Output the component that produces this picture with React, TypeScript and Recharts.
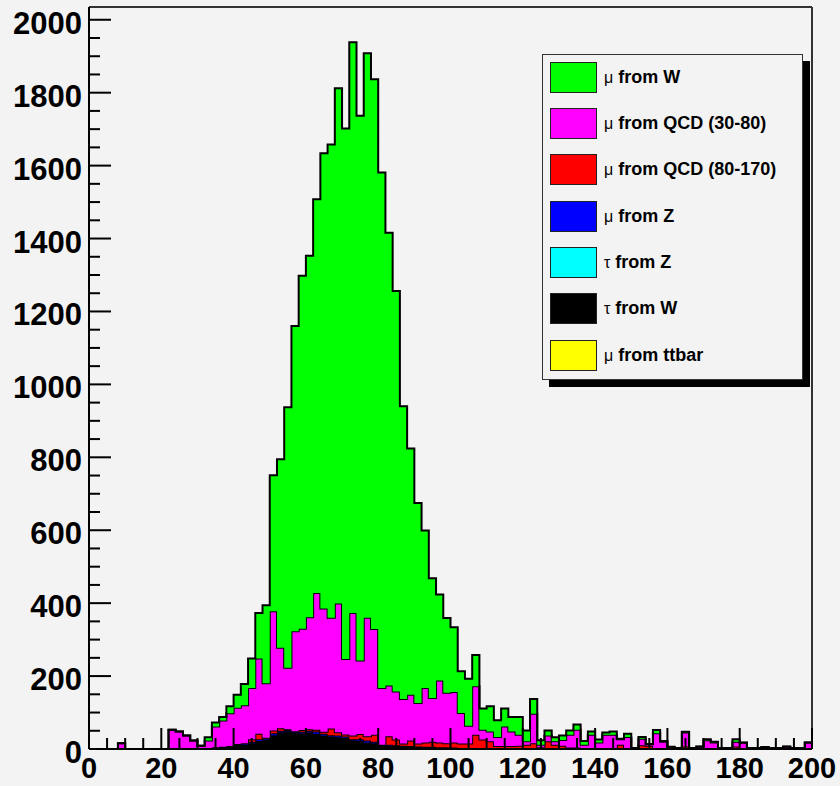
import React from "react";
import { AreaChart, Area, XAxis, YAxis, ReferenceLine } from "recharts";

// low edge of each 2 GeV bin
const BIN_LOW = [
  0, 2, 4, 6, 8, 10, 12, 14, 16, 18,
  20, 22, 24, 26, 28, 30, 32, 34, 36, 38,
  40, 42, 44, 46, 48, 50, 52, 54, 56, 58,
  60, 62, 64, 66, 68, 70, 72, 74, 76, 78,
  80, 82, 84, 86, 88, 90, 92, 94, 96, 98,
  100, 102, 104, 106, 108, 110, 112, 114, 116, 118,
  120, 122, 124, 126, 128, 130, 132, 134, 136, 138,
  140, 142, 144, 146, 148, 150, 152, 154, 156, 158,
  160, 162, 164, 166, 168, 170, 172, 174, 176, 178,
  180, 182, 184, 186, 188, 190, 192, 194, 196, 198,
];
const X_MAX = 200;
const Y_MAX = 2035;

const X_TICKS = [
  0, 5, 10, 15, 20, 25, 30, 35, 40, 45, 50, 55, 60, 65, 70, 75, 80, 85, 90, 95,
  100, 105, 110, 115, 120, 125, 130, 135, 140, 145, 150, 155, 160, 165, 170, 175,
  180, 185, 190, 195, 200,
];
const Y_TICKS = [
  0, 50, 100, 150, 200, 250, 300, 350, 400, 450, 500, 550, 600, 650, 700, 750,
  800, 850, 900, 950, 1000, 1050, 1100, 1150, 1200, 1250, 1300, 1350, 1400, 1450,
  1500, 1550, 1600, 1650, 1700, 1750, 1800, 1850, 1900, 1950, 2000,
];

const MU_W = [
  0, 0, 0, 0, 0, 0, 0, 0, 0, 0,
  0, 0, 0, 0, 0, 0, 9, 11, 10, 19,
  36, 58, 81, 125, 214, 373, 517, 714, 837, 968,
  992, 1080, 1249, 1298, 1413, 1455, 1565, 1494, 1548, 1508,
  1414, 1242, 1098, 803, 675, 549, 432, 328, 236, 205,
  178, 114, 129, 86, 58, 69, 46, 49, 40, 49,
  30, 40, 12, 14, 11, 12, 12, 14, 10, 9,
  8, 6, 9, 1, 9, 0, 5, 1, 9, 2,
  1, 0, 2, 1, 1, 3, 2, 1, 1, 7,
  1, 1, 1, 0, 0, 1, 1, 1, 0, 0,
];
const MU_QCD30 = [
  0, 0, 0, 0, 16, 0, 0, 0, 0, 0,
  0, 52, 46, 35, 20, 6, 20, 57, 72, 90,
  99, 104, 140, 206, 149, 327, 221, 169, 274, 278,
  307, 375, 338, 304, 353, 207, 336, 202, 325, 290,
  155, 139, 132, 122, 126, 111, 149, 120, 170, 138,
  138, 84, 49, 133, 27, 27, 25, 54, 40, 30,
  9, 81, 7, 16, 9, 16, 35, 49, 9, 36,
  15, 36, 36, 15, 30, 1, 18, 4, 40, 17,
  3, 1, 38, 1, 4, 22, 16, 1, 1, 13,
  15, 1, 1, 0, 1, 1, 4, 1, 1, 17,
];
const MU_QCD80 = [
  0, 0, 0, 0, 0, 0, 0, 0, 0, 0,
  0, 0, 1, 0, 1, 0, 0, 0, 0, 0,
  3, 1, 7, 15, 2, 8, 7, 2, 1, 5,
  4, 5, 5, 18, 9, 6, 10, 14, 12, 19,
  0, 23, 16, 6, 15, 8, 12, 14, 13, 11,
  14, 12, 12, 36, 23, 19, 6, 6, 6, 7,
  10, 14, 3, 19, 11, 8, 3, 3, 2, 2,
  2, 2, 2, 11, 2, 1, 9, 8, 2, 2,
  1, 1, 6, 0, 1, 1, 1, 0, 1, 6,
  1, 1, 1, 5, 1, 1, 1, 1, 1, 1,
];
const MU_Z = [
  0, 0, 0, 0, 0, 0, 0, 0, 0, 0,
  0, 0, 0, 0, 0, 0, 0, 1, 1, 2,
  3, 4, 4, 5, 4, 5, 4, 3, 3, 4,
  4, 6, 5, 4, 5, 4, 3, 5, 5, 4,
  2, 3, 2, 2, 2, 1, 1, 1, 1, 1,
  1, 0, 0, 0, 0, 0, 0, 0, 0, 0,
  0, 0, 0, 0, 0, 0, 0, 0, 0, 0,
  0, 0, 0, 0, 0, 0, 0, 0, 0, 0,
  0, 0, 0, 0, 0, 0, 0, 0, 0, 0,
  0, 0, 0, 0, 0, 0, 0, 0, 0, 0,
];
const TAU_Z = [
  0, 0, 0, 0, 0, 0, 0, 0, 0, 0,
  0, 0, 0, 0, 0, 0, 0, 0, 0, 0,
  0, 0, 0, 0, 0, 0, 1, 1, 0, 1,
  1, 0, 1, 0, 0, 0, 0, 0, 0, 0,
  0, 0, 0, 0, 0, 0, 0, 0, 0, 0,
  0, 0, 0, 0, 0, 0, 0, 0, 0, 0,
  0, 0, 0, 0, 0, 0, 0, 0, 0, 0,
  0, 0, 0, 0, 0, 0, 0, 0, 0, 0,
  0, 0, 0, 0, 0, 0, 0, 0, 0, 0,
  0, 0, 0, 0, 0, 0, 0, 0, 0, 0,
];
const TAU_W = [
  0, 0, 0, 0, 0, 0, 0, 0, 0, 0,
  0, 1, 1, 2, 2, 3, 3, 4, 5, 6,
  8, 11, 16, 22, 25, 38, 45, 48, 45, 42,
  45, 42, 36, 34, 32, 30, 24, 22, 18, 16,
  10, 9, 8, 7, 6, 6, 5, 5, 4, 4,
  3, 3, 3, 3, 3, 2, 2, 2, 2, 2,
  2, 2, 2, 2, 1, 1, 1, 1, 1, 1,
  1, 1, 1, 1, 1, 1, 1, 1, 1, 1,
  1, 1, 1, 1, 1, 1, 1, 1, 0, 1,
  1, 0, 0, 0, 0, 0, 1, 0, 0, 0,
];
const MU_TTBAR = [
  0, 0, 0, 0, 0, 0, 0, 0, 0, 0,
  0, 0, 0, 0, 0, 0, 0, 0, 0, 0,
  0, 0, 0, 0, 0, 0, 0, 0, 0, 0,
  0, 0, 0, 0, 0, 0, 0, 0, 0, 0,
  0, 0, 0, 0, 0, 0, 0, 0, 0, 0,
  0, 0, 0, 0, 0, 0, 0, 0, 0, 0,
  0, 0, 0, 0, 0, 0, 0, 0, 0, 0,
  0, 0, 0, 0, 0, 0, 0, 0, 0, 0,
  0, 0, 0, 0, 0, 0, 0, 0, 0, 0,
  0, 0, 0, 0, 0, 0, 0, 0, 0, 0,
];

// stack order, bottom first (the legend lists them top first)
const SERIES = [
  { key: "muTtbar", name: "μ from ttbar", color: "#ffff00", values: MU_TTBAR },
  { key: "tauW", name: "τ from W", color: "#000000", values: TAU_W },
  { key: "tauZ", name: "τ from Z", color: "#00ffff", values: TAU_Z },
  { key: "muZ", name: "μ from Z", color: "#0000ff", values: MU_Z },
  { key: "qcd80", name: "μ from QCD (80-170)", color: "#ff0000", values: MU_QCD80 },
  { key: "qcd30", name: "μ from QCD (30-80)", color: "#ff00ff", values: MU_QCD30 },
  { key: "muW", name: "μ from W", color: "#00ff00", values: MU_W },
];

const rows: any[] = BIN_LOW.map((x, i) => {
  const r: any = { x };
  SERIES.forEach((s) => (r[s.key] = s.values[i]));
  return r;
});
// closing edge so the last bin gets its step
const closing: any = { x: X_MAX };
SERIES.forEach((s) => (closing[s.key] = s.values[s.values.length - 1]));
rows.push(closing);

const BG = "#f3f3f3";
const FONT = '"Liberation Sans", Arial, Helvetica, sans-serif';
const Y_MARGIN = 7;
const X_MARGIN = 2;

function YTick(props: any) {
  const { x, y, payload } = props;
  const axisX = x + Y_MARGIN;
  const major = payload.value % 200 === 0;
  return (
    <g>
      <line x1={axisX} y1={y} x2={axisX + (major ? 22 : 11)} y2={y} stroke="#000" strokeWidth={2} />
      {major && (
        <text x={x} y={y + 14} textAnchor="end" fontSize={31} fontWeight="bold" fontFamily={FONT} fill="#000">
          {payload.value}
        </text>
      )}
    </g>
  );
}

function XTick(props: any) {
  const { x, y, payload } = props;
  const axisY = y - X_MARGIN;
  const major = payload.value % 20 === 0;
  return (
    <g>
      <line x1={x} y1={axisY} x2={x} y2={axisY - (major ? 21 : 11)} stroke="#000" strokeWidth={2} />
      {major && (
        <text x={x} y={axisY + 29} textAnchor="middle" fontSize={29} fontWeight="bold" fontFamily={FONT} fill="#000">
          {payload.value}
        </text>
      )}
    </g>
  );
}

function StackLegend() {
  const items = [...SERIES].reverse();
  return (
    <div
      style={{
        position: "absolute",
        left: 542,
        top: 54,
        width: 259,
        height: 324,
        border: "1px solid #333",
        background: BG,
        boxShadow: "7px 7px 0 #000",
      }}
    >
      {items.map((s, i) => (
        <div
          key={s.key}
          style={{ position: "absolute", left: 7, top: 6.7 + i * 46.3, height: 31, display: "flex", alignItems: "center" }}
        >
          <div style={{ width: 45, height: 29, background: s.color, border: "1px solid #222" }} />
          <span style={{ marginLeft: 7, fontSize: 18, fontFamily: FONT, color: "#000", whiteSpace: "nowrap" }}>
            <span style={{ fontWeight: "normal", fontSize: 16 }}>{s.name.slice(0, 1)}</span>
            <span style={{ fontWeight: "bold" }}>{s.name.slice(1)}</span>
          </span>
        </div>
      ))}
    </div>
  );
}

export default function App() {
  return (
    <div style={{ position: "absolute", left: 0, top: 0, width: 840, height: 786, background: BG, overflow: "hidden" }}>
      <AreaChart width={840} height={786} data={rows} margin={{ top: 7, right: 28, bottom: 0, left: 0 }}>
        {SERIES.map((s) => (
          <Area
            key={s.key}
            dataKey={s.key}
            name={s.name}
            stackId="stack"
            type="stepAfter"
            fill={s.color}
            fillOpacity={1}
            stroke="#000"
            strokeWidth={2}
            dot={false}
            activeDot={false}
            isAnimationActive={false}
          />
        ))}
        <ReferenceLine x={X_MAX} stroke="#333" strokeWidth={2} />
        <ReferenceLine y={Y_MAX} stroke="#333" strokeWidth={2} />
        <XAxis
          dataKey="x"
          type="number"
          domain={[0, X_MAX]}
          ticks={X_TICKS}
          interval={0}
          height={37}
          tickSize={0}
          tickLine={false}
          tickMargin={X_MARGIN}
          axisLine={{ stroke: "#000", strokeWidth: 2 }}
          tick={XTick}
        />
        <YAxis
          type="number"
          domain={[0, Y_MAX]}
          ticks={Y_TICKS}
          interval={0}
          width={89}
          tickSize={0}
          tickLine={false}
          tickMargin={Y_MARGIN}
          axisLine={{ stroke: "#000", strokeWidth: 2 }}
          tick={YTick}
        />
      </AreaChart>
      <StackLegend />
    </div>
  );
}
